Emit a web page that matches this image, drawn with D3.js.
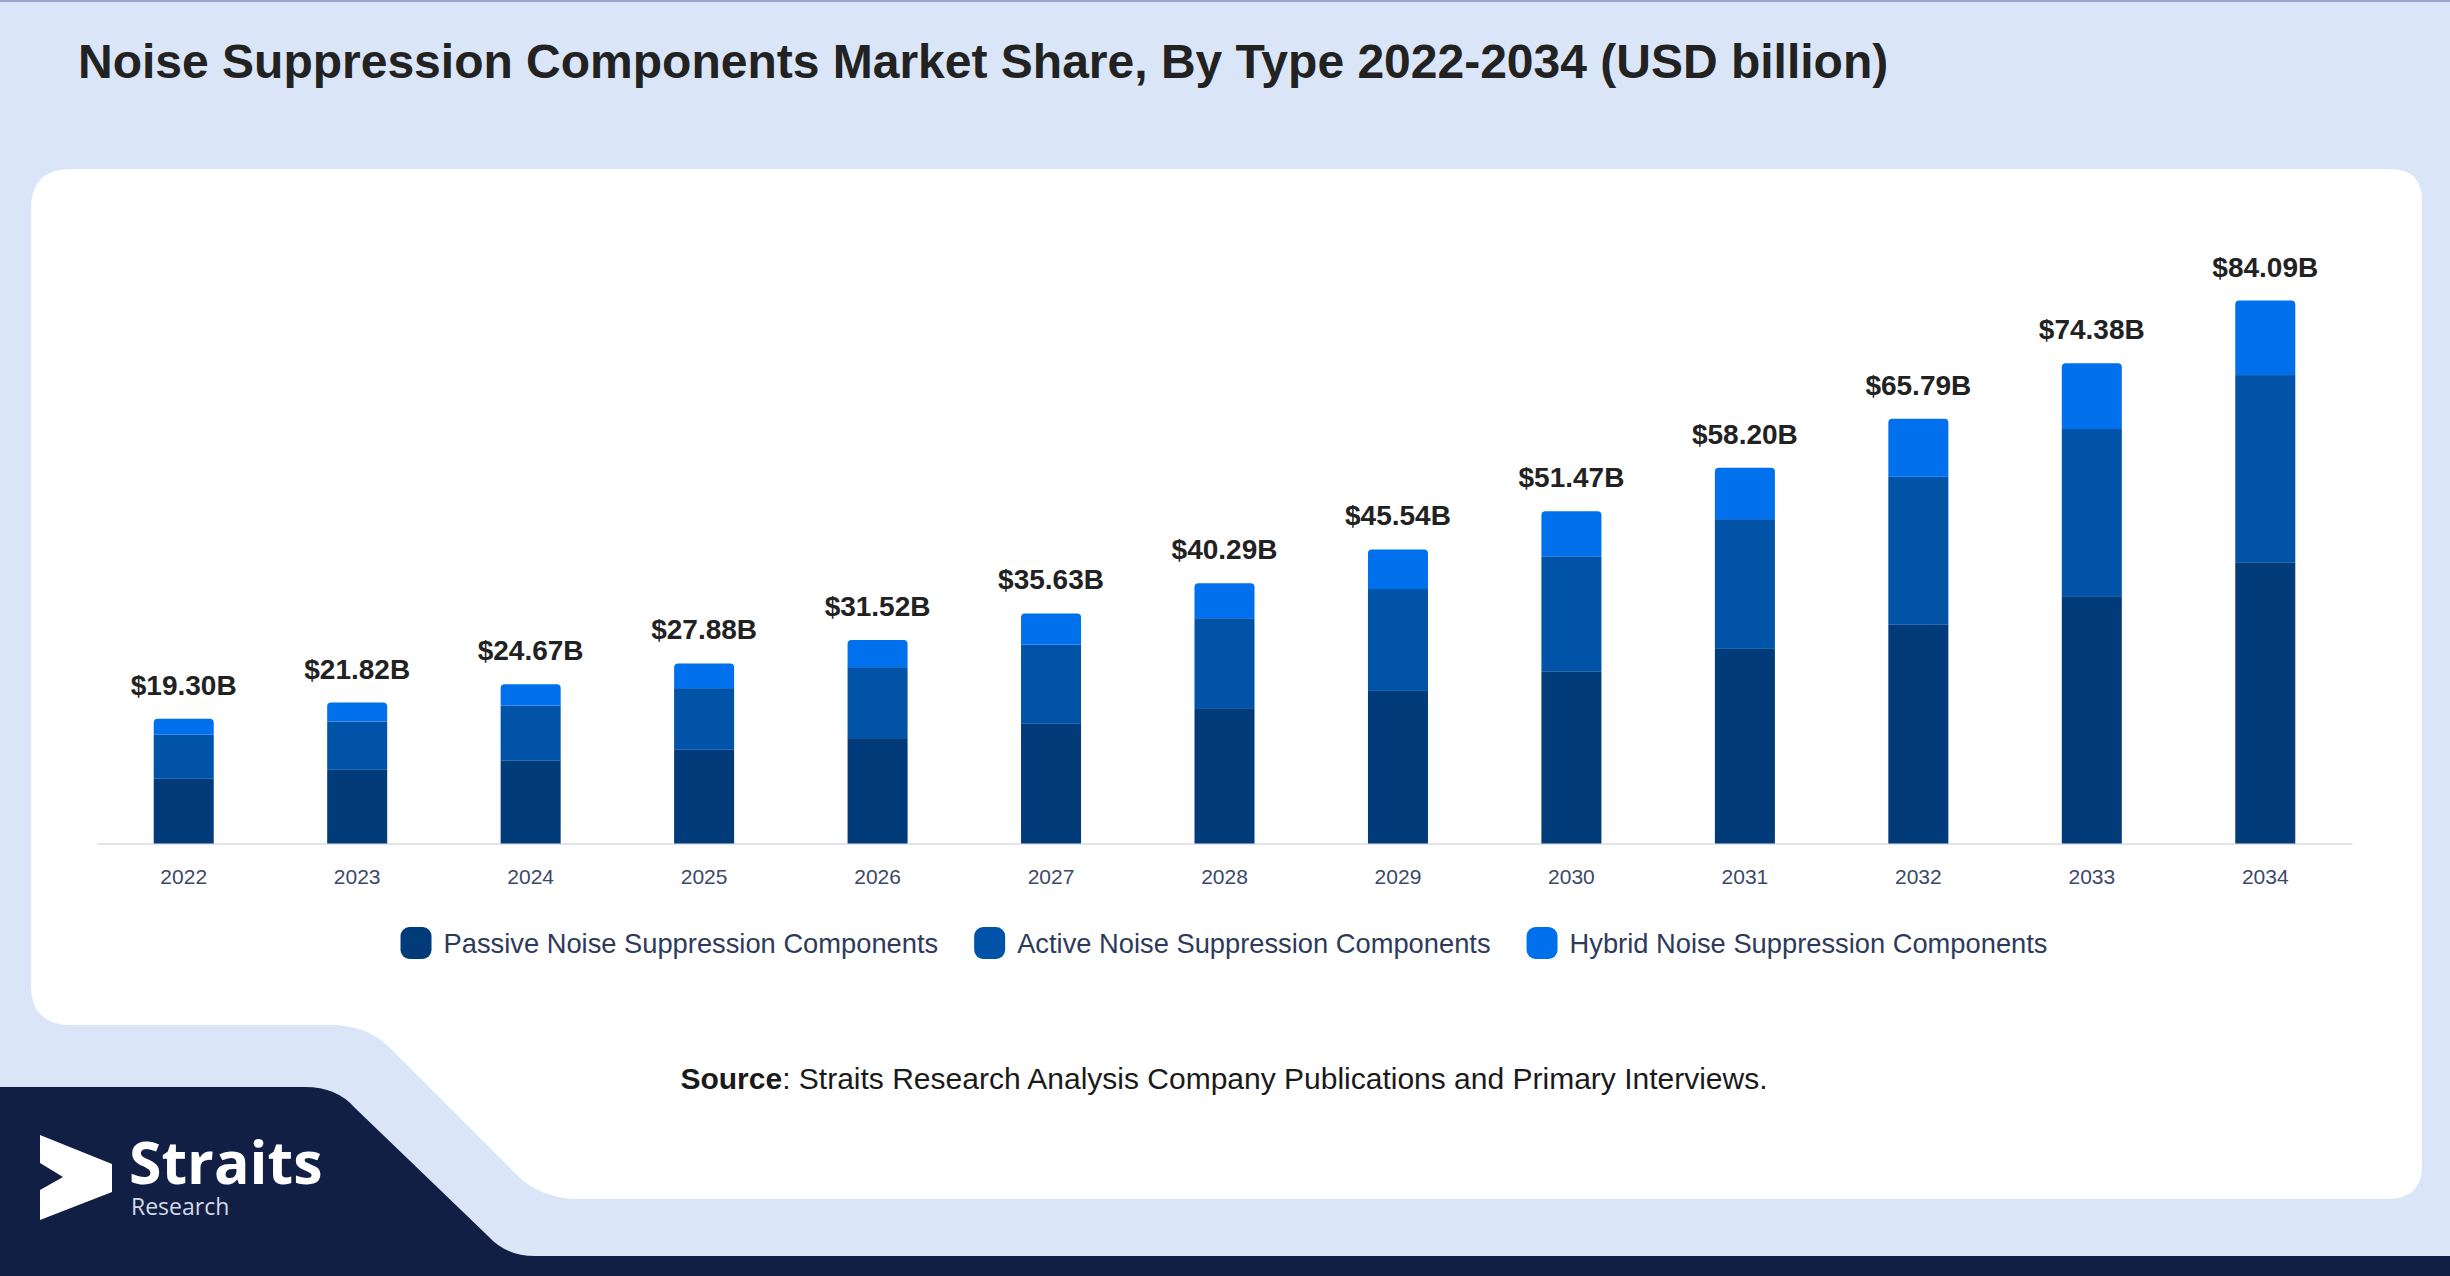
<!DOCTYPE html>
<html>
<head>
<meta charset="utf-8">
<script src="https://cdn.jsdelivr.net/npm/d3@7/dist/d3.min.js"></script>
<style>
  html, body { margin: 0; padding: 0; background: #dae6f8; }
  svg { display: block; }
  text { font-family: "Liberation Sans", Arial, Helvetica, sans-serif; }
</style>
</head>
<body>
<svg id="chart" width="2450" height="1276"></svg>
<script>
// ---------- DATA ----------
const years = ["2022","2023","2024","2025","2026","2027","2028","2029","2030","2031","2032","2033","2034"];
const passive = [10.02, 11.41, 12.81, 14.51, 16.32, 18.53, 20.96, 23.63, 26.67, 30.14, 33.87, 38.30, 43.55];
const active  = [6.81, 7.48, 8.51, 9.55, 10.99, 12.23, 13.93, 15.78, 17.81, 20.09, 22.94, 25.89, 28.99];
const hybrid  = [2.47, 2.93, 3.35, 3.82, 4.21, 4.87, 5.40, 6.13, 6.99, 7.97, 8.98, 10.19, 11.55];
const totals  = [19.30, 21.82, 24.67, 27.88, 31.52, 35.63, 40.29, 45.54, 51.47, 58.20, 65.79, 74.38, 84.09];
const totalLabels = ["$19.30B","$21.82B","$24.67B","$27.88B","$31.52B","$35.63B","$40.29B","$45.54B","$51.47B","$58.20B","$65.79B","$74.38B","$84.09B"];
const seriesNames = ["Passive Noise Suppression Components","Active Noise Suppression Components","Hybrid Noise Suppression Components"];
const seriesKeys = ["passive","active","hybrid"];
const seriesColors = ["#023b79","#0153a8","#0070ec"];
const titleText = "Noise Suppression Components Market Share, By Type 2022-2034 (USD billion)";

// ---------- SVG ----------
const svg = d3.select("#chart");
const W = 2450, H = 1276;

// background
svg.append("rect").attr("width", W).attr("height", H).attr("fill", "#dae6f8");
svg.append("line").attr("x1", 0).attr("x2", W).attr("y1", 1).attr("y2", 1)
  .attr("stroke", "#97a6c9").attr("stroke-width", 2);

// white card with stepped bottom-left
const card = d3.path();
card.moveTo(31 + 40, 169);
card.lineTo(2422 - 32, 169);
card.quadraticCurveTo(2422, 169, 2422, 169 + 32);
card.lineTo(2422, 1199 - 34);
card.quadraticCurveTo(2422, 1199, 2422 - 34, 1199);
card.lineTo(580, 1199);
card.quadraticCurveTo(541, 1199, 517, 1175);
card.lineTo(389, 1047);
card.quadraticCurveTo(367, 1025, 330, 1025);
card.lineTo(31 + 40, 1025);
card.quadraticCurveTo(31, 1025, 31, 1025 - 40);
card.lineTo(31, 169 + 40);
card.quadraticCurveTo(31, 169, 31 + 40, 169);
card.closePath();
svg.append("path").attr("d", card.toString()).attr("fill", "#ffffff");

// navy footer shape
const navy = d3.path();
navy.moveTo(0, 1087);
navy.lineTo(305, 1087);
navy.quadraticCurveTo(337, 1087, 355, 1108);
navy.lineTo(488, 1236);
navy.quadraticCurveTo(506, 1256, 535, 1256);
navy.lineTo(W, 1256);
navy.lineTo(W, H);
navy.lineTo(0, H);
navy.closePath();
svg.append("path").attr("d", navy.toString()).attr("fill", "#111f45");

// logo
svg.append("polygon")
  .attr("points", "40,1135 112,1164 112,1192 40,1220 40,1190 63,1177 40,1163")
  .attr("fill", "#ffffff");
svg.append("text").attr("x", 129).attr("y", 1184)
  .style("font-family", "'Open Sans', sans-serif").style("font-weight", 700)
  .style("font-size", "59px").attr("fill", "#ffffff").text("Straits");
svg.append("text").attr("x", 131).attr("y", 1215)
  .style("font-family", "'Open Sans', sans-serif").style("font-weight", 400)
  .style("font-size", "23px").attr("fill", "#d5d9e6").text("Research");

// title
svg.append("text").attr("x", 78).attr("y", 78)
  .style("font-weight", 700).style("font-size", "48px").attr("fill", "#222222")
  .text(titleText);

// ---------- SCALES ----------
const x = d3.scaleBand().domain(years).range([97, 2352]).paddingInner(0.654).paddingOuter(0.327);
const y = d3.scaleLinear().domain([0, 84.09]).range([843.5, 300.5]);

const rows = years.map((yr, i) => ({ year: yr, passive: passive[i], active: active[i], hybrid: hybrid[i], total: totals[i], label: totalLabels[i] }));
const stacked = d3.stack().keys(seriesKeys)(rows);

// x axis
const axis = d3.axisBottom(x).tickSize(0).tickPadding(26);
const gx = svg.append("g").attr("transform", "translate(0,843.5)").call(axis);
gx.select(".domain").attr("stroke", "#e1e4ea").attr("stroke-width", 2);
gx.selectAll("text").style("font-size", "21px").attr("fill", "#3b4868")
  .style("font-family", "'Liberation Sans', Arial, sans-serif");

// bars
stacked.forEach((layer, li) => {
  const g = svg.append("g").attr("fill", seriesColors[li]);
  if (li < stacked.length - 1) {
    g.selectAll("rect").data(layer).join("rect")
      .attr("x", d => x(d.data.year))
      .attr("y", d => y(d[1]))
      .attr("width", x.bandwidth())
      .attr("height", d => y(d[0]) - y(d[1]));
  } else {
    g.selectAll("path").data(layer).join("path")
      .attr("d", d => {
        const x0 = x(d.data.year), x1 = x0 + x.bandwidth();
        const yt = y(d[1]), yb = y(d[0]), r = 4;
        return `M${x0},${yb} L${x0},${yt + r} Q${x0},${yt} ${x0 + r},${yt} L${x1 - r},${yt} Q${x1},${yt} ${x1},${yt + r} L${x1},${yb} Z`;
      });
  }
});

// value labels
svg.append("g").selectAll("text").data(rows).join("text")
  .attr("x", d => x(d.year) + x.bandwidth() / 2)
  .attr("y", d => y(d.total) - 24)
  .attr("text-anchor", "middle")
  .style("font-weight", 700).style("font-size", "28px").attr("fill", "#222222")
  .text(d => d.label);

// legend
const legend = svg.append("g");
const items = seriesNames.map((name, i) => {
  const g = legend.append("g");
  g.append("rect").attr("x", 0).attr("y", 927).attr("width", 31).attr("height", 32)
    .attr("rx", 9).attr("fill", seriesColors[i]);
  const t = g.append("text").attr("x", 43).attr("y", 953)
    .style("font-size", "27.3px").attr("fill", "#2e3a5c").text(name);
  return { g, w: 43 + t.node().getComputedTextLength() };
});
const gap = 36;
const totalW = d3.sum(items, d => d.w) + gap * (items.length - 1);
let cx = 1224 - totalW / 2;
items.forEach(it => { it.g.attr("transform", `translate(${cx},0)`); cx += it.w + gap; });

// source
const src = svg.append("text").attr("x", 1224).attr("y", 1089).attr("text-anchor", "middle")
  .style("font-size", "30px").attr("fill", "#1a1a1a");
src.append("tspan").style("font-weight", 700).text("Source");
src.append("tspan").text(": Straits Research Analysis Company Publications and Primary Interviews.");
</script>
</body>
</html>
